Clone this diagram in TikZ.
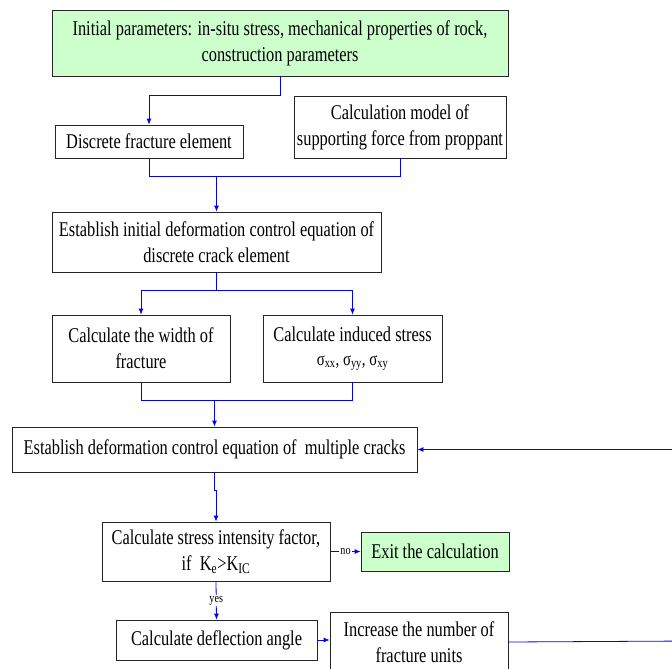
\documentclass[tikz,border=0pt]{standalone}
\usepackage{fontspec}
\setmainfont[FakeStretch=0.78]{Liberation Serif}
\usetikzlibrary{arrows.meta,calc}
\definecolor{boxgreen}{RGB}{204,255,204}
\tikzset{
	box/.style={draw=black!85, line width=0.8pt, align=center, inner sep=1pt,
		font=\fontsize{21}{26}\selectfont},
	startbox/.style={box, fill=boxgreen},
	conn/.style={draw=blue, line width=0.8pt, -{Latex[length=6pt,width=5pt]}},
	link/.style={draw=blue, line width=0.8pt},
	tag/.style={fill=white, inner sep=1pt, font=\fontsize{13}{14}\selectfont}
}

\begin{document}
\begin{tikzpicture}[x=1pt,y=1pt]
		%%%%% START %%%%%
		\useasboundingbox (0,0) rectangle (672,-669);
		\clip (0,0) rectangle (672,-669);
		
		% boxes
		\node[startbox, minimum width=456pt, minimum height=66pt] (init) at (280,-43)
			{Initial parameters: in-situ stress, mechanical properties of rock,\\construction parameters};
		\node[box, minimum width=188pt, minimum height=33pt] (disc) at (149,-141.5)
			{Discrete fracture element};
		\node[box, minimum width=212pt, minimum height=62pt] (model) at (400,-127)
			{Calculation model of\\supporting force from proppant};
		\node[box, minimum width=329pt, minimum height=60pt] (estinit) at (216.5,-242)
			{Establish initial deformation control equation of\\discrete crack element};
		\node[box, minimum width=178pt, minimum height=67pt] (width) at (141,-348.5)
			{Calculate the width of\\fracture};
		\node[box, minimum width=179pt, minimum height=67pt] (stress) at (352.5,-348.5)
			{Calculate induced stress\\[-2pt]{\fontsize{19}{20}\selectfont σ\textsubscript{xx}, σ\textsubscript{yy}, σ\textsubscript{xy}}};
		\node[box, minimum width=405pt, minimum height=45pt] (estmul) at (214.5,-449.5)
			{Establish deformation control equation of ~multiple cracks};
		\node[box, minimum width=228pt, minimum height=59pt] (sif) at (216,-551.5)
			{Calculate stress intensity factor,\\if ~K\textsubscript{e}>K\textsubscript{IC}};
		\node[startbox, minimum width=148pt, minimum height=39pt] (exitc) at (435,-551.5)
			{Exit the calculation};
		\node[box, minimum width=201pt, minimum height=40pt] (defl) at (216.5,-640)
			{Calculate deflection angle};
		\node[box, minimum width=178pt, minimum height=60pt] (incr) at (419,-642)
			{Increase the number of\\fracture units};
		
		% connectors
		\draw[conn] (init.south) -- ++(0,-19) -| (disc.north);
		\draw[link] (disc.south) -- ++(0,-18) -| (model.south);
		\coordinate (j1) at (estinit.north |- 0,-176);
		\draw[conn] (j1) -- (estinit.north);
		
		\draw[link] (estinit.south) -- ++(0,-18) coordinate (j2);
		\draw[conn] (j2) -| (width.north);
		\draw[conn] (j2) -| (stress.north);
		
		\draw[link] (width.south) -- ++(0,-18) -| (stress.south);
		\coordinate (j3) at (estmul.north |- 0,-400);
		\draw[conn] (j3) -- (estmul.north);
		
		\draw[conn] (estmul.south) -- ++(0,-18) -| (sif.north);
		\draw[conn] (sif.east) -- node[tag] {no} (exitc.west);
		\draw[conn] (sif.south) -- node[tag] {yes} (defl.north);
		\draw[conn] (defl.east) -- (defl.east -| incr.west);
		\draw[conn] (incr.east) -- (690,-641) |- (estmul.east);
		%%%%% END %%%%%
	\end{tikzpicture}
\end{document}
